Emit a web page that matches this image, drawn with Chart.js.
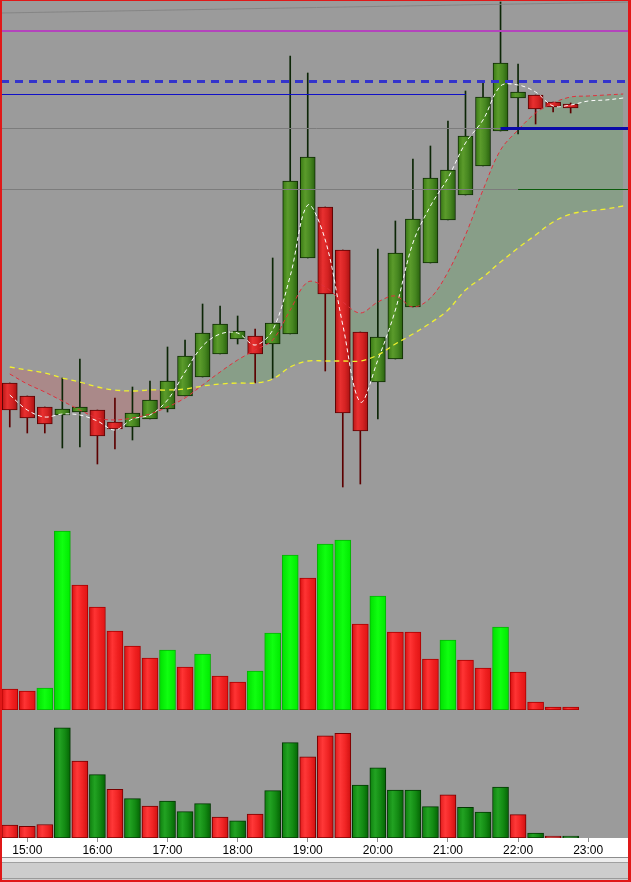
<!DOCTYPE html>
<html>
<head>
<meta charset="utf-8">
<script src="https://cdn.jsdelivr.net/npm/chart.js@4.4.1/dist/chart.umd.min.js"></script>
<style>
    html, body { margin: 0; padding: 0; width: 631px; height: 882px; overflow: hidden; background: #9b9b9b; }
    canvas { position: absolute; left: 1px; }
    #priceChart { top: 0; }
    #volChart { top: 519px; }
    #deltaChart { top: 715px; }
    #strip { position: absolute; left: 0; top: 857px; width: 631px; height: 25px; background: #cdcdcd; }
    #strip div { width: 100%; }
    #frame { position: absolute; left: 0; top: 0; width: 631px; height: 882px; box-sizing: border-box;
             border-style: solid; border-color: #e01818; border-width: 1px 3px 2px 2px; pointer-events: none; }
</style>
</head>
<body>
<canvas id="priceChart" width="631" height="515"></canvas>
<canvas id="volChart" width="631" height="191"></canvas>
<canvas id="deltaChart" width="631" height="143"></canvas>
<div id="strip">
    <div style="height:1px;background:#8c8c8c"></div>
    <div style="height:4px;background:#ededed"></div>
    <div style="height:1px;background:#a0a0a0"></div>
    <div style="height:15px;background:#cdcdcd"></div>
    <div style="height:1px;background:#9a9a9a"></div>
</div>
<div id="frame"></div>
<script>
// 15 minute bars, last three slots are empty
const times = ['14:45', '15:00', '15:15', '15:30', '15:45', '16:00', '16:15', '16:30', '16:45',
    '17:00', '17:15', '17:30', '17:45', '18:00', '18:15', '18:30', '18:45',
    '19:00', '19:15', '19:30', '19:45', '20:00', '20:15', '20:30', '20:45',
    '21:00', '21:15', '21:30', '21:45', '22:00', '22:15', '22:30', '22:45',
    '23:00', '23:15', '23:30'];

const opens  = [111.7, 110.4, 109.3, 108.5, 108.8, 109.0, 107.8, 107.3, 108.1, 109.1, 110.4, 112.3, 114.6, 116.1, 116.4, 115.6,
    116.6, 124.2, 129.3, 125.0, 116.8, 111.8, 114.1, 119.3, 123.7, 128.0, 130.5, 133.4, 136.9, 140.2, 140.5, 139.8, 139.6];
const highs  = [111.7, 110.4, 109.3, 112.2, 114.1, 109.0, 110.2, 111.3, 111.9, 115.3, 116.0, 119.6, 119.4, 118.4, 117.1, 124.2,
    144.4, 142.7, 129.3, 125.0, 116.8, 125.1, 127.9, 134.1, 135.4, 137.9, 140.9, 141.8, 149.8, 143.6, 140.5, 139.8, 139.7];
const lows   = [107.3, 106.7, 106.7, 105.2, 105.3, 103.6, 105.1, 106.0, 108.1, 108.8, 110.4, 112.3, 114.6, 115.6, 111.7, 112.2,
    116.6, 124.2, 112.9, 101.3, 101.6, 108.1, 114.1, 119.3, 123.7, 128.0, 130.5, 133.4, 136.9, 136.6, 137.6, 138.8, 138.7];
const closes = [109.0, 108.2, 107.6, 109.1, 109.3, 106.4, 107.1, 108.7, 110.0, 111.9, 114.4, 116.7, 117.6, 116.9, 114.6, 117.7,
    131.9, 134.3, 120.6, 108.7, 106.9, 116.3, 124.7, 128.1, 132.2, 133.0, 136.4, 140.3, 143.7, 140.8, 139.1, 139.3, 139.2];

// moving averages (run three bars past the last candle)
const maFast = [110.5, 109.0, 108.3, 108.6, 108.5, 107.9, 107.0, 108.1, 108.5, 110.0, 112.8, 115.4, 116.6, 116.7, 115.5, 117.0,
    122.4, 129.5, 126.0, 117.5, 109.8, 114.0, 119.0, 125.7, 129.4, 132.2, 135.7, 138.0, 141.4, 141.5, 140.8, 139.4, 139.5,
    139.9, 140.0, 140.2];
const maMid = [112.6, 111.6, 110.8, 109.9, 109.0, 108.2, 108.0, 108.2, 108.6, 109.3, 110.2, 111.5, 112.8, 114.0, 115.0, 116.0,
    119.0, 121.8, 121.3, 119.8, 118.7, 119.8, 120.4, 119.3, 120.2, 122.8, 126.5, 131.0, 135.0, 137.0, 138.7, 139.7, 140.3,
    140.4, 140.5, 140.6];
const maSlow = [113.3, 113.0, 112.7, 112.2, 111.8, 111.3, 111.0, 110.9, 111.0, 111.0, 111.1, 111.4, 111.6, 111.7, 111.7, 112.1,
    113.3, 113.9, 113.9, 113.9, 113.9, 114.5, 115.6, 116.6, 117.7, 119.0, 121.0, 122.3, 123.8, 125.2, 126.5, 127.8, 128.6,
    128.9, 129.1, 129.4];

// horizontal levels: price, first bar index, last bar index (null = chart edge)
const levelValues = [146.9, 141.9, 140.6, 137.2, 137.2, 131.1, 131.1];
const levelFrom   = [null, null, null, null, 28, null, 29];
const levelTo     = [null, null, 26, null, null, 29, null];
const trendLine   = [148.7, 149.8]; // value at left edge, value at right edge

const volumes = [525, 475, 550, 4475, 3125, 2575, 1975, 1600, 1300, 1500, 1075, 1400, 850, 700, 975, 1925,
    3875, 3300, 4150, 4250, 2150, 2850, 1950, 1950, 1275, 1750, 1250, 1050, 2075, 950, 200, 75, 75];
// 1 = buy side, -1 = sell side
const volumeSide = [-1, -1, -1, 1, -1, 1, -1, 1, -1, 1, 1, 1, -1, 1, -1, 1,
    1, -1, -1, -1, 1, 1, 1, 1, 1, -1, 1, 1, 1, -1, 1, -1, 1];

const levelStyles = [
    { color: '#b444bc', width: 2, dash: [] },
    { color: '#3434cc', width: 3, dash: [8, 6] },
    { color: '#1010c8', width: 1, dash: [] },
    { color: '#7c7c7c', width: 1, dash: [] },
    { color: '#0a0aa8', width: 3, dash: [] },
    { color: '#7c7c7c', width: 1, dash: [] },
    { color: '#0c5c0c', width: 1, dash: [] }
];

// horizontal gradient across one bar
function barGradient(ctx, width, stops, fallback) {
    const chart = ctx.chart;
    if (typeof ctx.dataIndex !== 'number' || !chart.scales.x) return fallback;
    const x = chart.scales.x.getPixelForValue(ctx.dataIndex);
    if (!isFinite(x)) return fallback;
    const g = chart.ctx.createLinearGradient(x - width / 2, 0, x + width / 2, 0);
    stops.forEach((c, i) => g.addColorStop(i / (stops.length - 1), c));
    return g;
}

const isUp = i => closes[i] >= opens[i];

const levelLines = {
    id: 'levelLines',
    afterDatasetsDraw(chart) {
        const { ctx, chartArea, scales: { x, y } } = chart;
        ctx.save();
        ctx.lineWidth = 1;
        ctx.strokeStyle = '#858585';
        ctx.beginPath();
        ctx.moveTo(chartArea.left, y.getPixelForValue(trendLine[0]));
        ctx.lineTo(chartArea.right, y.getPixelForValue(trendLine[1]));
        ctx.stroke();
        levelValues.forEach((v, i) => {
            const st = levelStyles[i];
            const py = Math.round(y.getPixelForValue(v)) + (st.width % 2 ? 0.5 : 0);
            const x0 = levelFrom[i] === null ? chartArea.left : x.getPixelForValue(levelFrom[i]);
            const x1 = levelTo[i] === null ? chartArea.right : x.getPixelForValue(levelTo[i]);
            ctx.strokeStyle = st.color;
            ctx.lineWidth = st.width;
            ctx.setLineDash(st.dash);
            ctx.beginPath();
            ctx.moveTo(x0, py);
            ctx.lineTo(x1, py);
            ctx.stroke();
        });
        ctx.restore();
    }
};

const baseOptions = {
    responsive: false,
    animation: false,
    events: [],
    layout: { padding: 0 },
    plugins: { legend: { display: false }, tooltip: { enabled: false } }
};

// Price panel
const priceChart = new Chart(document.getElementById('priceChart'), {
    type: 'bar',
    data: {
        labels: times,
        datasets: [{
            type: 'line',
            data: maSlow,
            borderColor: '#f0f030',
            borderWidth: 1.3,
            borderDash: [5, 4],
            pointRadius: 0,
            tension: 0.35,
            order: 0
        }, {
            type: 'line',
            data: maMid,
            borderColor: '#e0303c',
            borderWidth: 1,
            borderDash: [4, 3],
            pointRadius: 0,
            tension: 0.35,
            fill: { target: 0, above: 'rgba(110,162,110,0.42)', below: 'rgba(190,112,112,0.42)' },
            order: 0
        }, {
            type: 'line',
            data: maFast,
            borderColor: '#ffffff',
            borderWidth: 1,
            borderDash: [4, 3],
            pointRadius: 0,
            tension: 0.35,
            order: 0
        }, {
            data: opens.map((o, i) => [o, closes[i]]),
            grouped: false,
            barThickness: 15,
            borderWidth: 1,
            borderSkipped: false,
            borderColor: opens.map((o, i) => isUp(i) ? '#0f2c04' : '#5a0404'),
            backgroundColor: ctx => isUp(ctx.dataIndex)
                ? barGradient(ctx, 15, ['#3a7a14', '#5b9b2b', '#468620', '#2a620e'], '#4a8a1c')
                : barGradient(ctx, 15, ['#b81616', '#e83030', '#d42222', '#a81212'], '#d02020'),
            order: 1
        }, {
            data: lows.map((l, i) => [l, highs[i]]),
            grouped: false,
            barThickness: 1,
            borderWidth: 0,
            backgroundColor: lows.map((l, i) => isUp(i) ? '#0c2606' : '#5c0000'),
            order: 2
        }]
    },
    options: {
        ...baseOptions,
        plugins: { ...baseOptions.plugins, filler: { drawTime: 'beforeDatasetsDraw' } },
        scales: {
            x: { display: false },
            y: { display: false, min: 98.5, max: 150 }
        }
    },
    plugins: [levelLines]
});

// Volume panel, coloured by rise or fall against the previous bar
const volChart = new Chart(document.getElementById('volChart'), {
    type: 'bar',
    data: {
        labels: times,
        datasets: [{
            data: volumes,
            barThickness: 16,
            borderWidth: 1,
            borderSkipped: false,
            borderColor: volumes.map((v, i) => i > 0 && v > volumes[i - 1] ? '#06b006' : '#a80000'),
            backgroundColor: ctx => {
                const i = ctx.dataIndex;
                return i > 0 && volumes[i] > volumes[i - 1]
                    ? barGradient(ctx, 16, ['#00e000', '#10ff10', '#00ea00'], '#00f000')
                    : barGradient(ctx, 16, ['#d81010', '#ff3434', '#f02020', '#e01414'], '#f02020');
            }
        }]
    },
    options: {
        ...baseOptions,
        scales: {
            x: { display: false },
            y: { display: false, min: 0, max: 4775 }
        }
    }
});

// white strip behind the time axis
const axisBg = {
    id: 'axisBg',
    beforeDraw(chart) {
        const { ctx, chartArea } = chart;
        ctx.save();
        ctx.fillStyle = '#ffffff';
        ctx.fillRect(0, chartArea.bottom, chart.width, chart.height - chartArea.bottom);
        ctx.restore();
    }
};

// Buy / sell volume panel with time axis
const deltaChart = new Chart(document.getElementById('deltaChart'), {
    type: 'bar',
    data: {
        labels: times,
        datasets: [{
            data: volumes,
            barThickness: 16,
            borderWidth: 1,
            borderSkipped: false,
            borderColor: volumeSide.map(s => s > 0 ? '#033803' : '#780000'),
            backgroundColor: ctx => volumeSide[ctx.dataIndex] > 0
                ? barGradient(ctx, 16, ['#0e800e', '#22a222', '#138a13', '#046404'], '#138a13')
                : barGradient(ctx, 16, ['#e01c1c', '#ff3838', '#f02424', '#d01010'], '#f02020')
        }]
    },
    options: {
        ...baseOptions,
        scales: {
            x: {
                grid: { drawOnChartArea: false, drawTicks: true, tickLength: 4, color: '#8c8c8c', offset: false },
                border: { display: false },
                ticks: {
                    autoSkip: false,
                    maxRotation: 0,
                    padding: 1,
                    color: '#000000',
                    font: { family: '"Liberation Sans", Arial, sans-serif', size: 12 },
                    callback: (v, i) => times[i].endsWith(':00') ? times[i] : null
                },
                afterFit: s => { s.height = 20; }
            },
            y: { display: false, min: 0, max: 5000 }
        }
    },
    plugins: [axisBg]
});
</script>
</body>
</html>
